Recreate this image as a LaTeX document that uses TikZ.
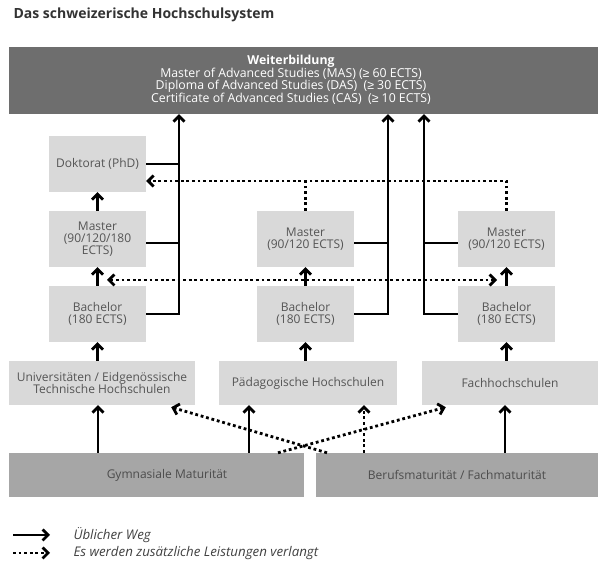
\documentclass[tikz,border=0pt]{standalone}
\usepackage{fontspec}
\setmainfont{Open Sans}
\newfontfamily\symfont{Liberation Sans}
\newcommand{\atleast}{{\symfont ≥}}
\usetikzlibrary{arrows.meta}
\definecolor{darkbox}{HTML}{6E6E6E}
\definecolor{lightbox}{HTML}{D9D9D9}
\definecolor{midbox}{HTML}{A6A6A6}
\definecolor{boxtext}{HTML}{555555}
\definecolor{titletext}{HTML}{333333}

\tikzset{
  stage/.style={shape=rectangle, fill=lightbox, inner sep=0pt, minimum width=97pt, minimum height=56pt,
    align=center, text=boxtext, font=\fontsize{12}{12}\selectfont},
  school/.style={stage, minimum height=44pt},
  entry/.style={stage, fill=midbox, text=black!70, minimum height=44pt},
  usual/.style={line width=2.8pt, -{Straight Barb[length=5.5pt,width=11pt]}},
  plainline/.style={line width=2.8pt},
  extraline/.style={line width=2.8pt, dash pattern=on 2.8pt off 2.8pt},
  extra/.style={extraline, -{Straight Barb[length=5.5pt,width=11pt]}},
  extraboth/.style={extraline, {Straight Barb[length=5.5pt,width=11pt]}-{Straight Barb[length=5.5pt,width=11pt]}},
}

\begin{document}
\begin{tikzpicture}[x=1pt, y=-1pt, line join=miter]
  \useasboundingbox (0,0) rectangle (598,561);
  \node (title) at (10,19) [anchor=base west, text=titletext, font=\bfseries\fontsize{14}{16}\selectfont] {Das schweizerische Hochschulsystem};

  % Weiterbildung
  \node (wb) at (303.5,80.5) [shape=rectangle, fill=darkbox, minimum width=589pt, minimum height=67pt, inner sep=0pt] {};
  \node (wbtext) at (291,80) [align=center, text=white, font=\fontsize{12.3}{11.6}\selectfont]
    {\textbf{Weiterbildung}\\Master of Advanced Studies (MAS) (\atleast\ 60 ECTS)\\Diploma of Advanced Studies (DAS)\ \ (\atleast\ 30 ECTS)\\Certificate of Advanced Studies (CAS)\ \ (\atleast\ 10 ECTS)};

  % Stufen
  \node (dok) at (97.5,164) [stage] {Doktorat (PhD)};
  \node (mL) at (97.5,239) [stage] {Master\\(90/120/180\\ECTS)};
  \node (bL) at (97.5,314) [stage] {Bachelor\\(180 ECTS)};
  \node (mM) at (305.5,239) [stage] {Master\\(90/120 ECTS)};
  \node (bM) at (305.5,314) [stage] {Bachelor\\(180 ECTS)};
  \node (mR) at (506.5,239) [stage] {Master\\(90/120 ECTS)};
  \node (bR) at (506.5,314) [stage] {Bachelor\\(180 ECTS)};

  % Hochschulen
  \node (uni) at (102,383) [school, minimum width=186pt] {Universitäten / Eidgenössische\\Technische Hochschulen};
  \node (phs) at (308,383) [school, minimum width=178pt] {Pädagogische Hochschulen};
  \node (fh) at (510,383) [school, minimum width=176pt] {Fachhochschulen};

  % Maturitaet
  \node (gym) at (156.5,475) [entry, minimum width=295pt] {};
  \node (gymtext) at (167,475) [text=black!70, font=\fontsize{12}{12}\selectfont] {Gymnasiale Maturität};
  \node (bms) at (457,475) [entry, minimum width=282pt] {Berufsmaturität / Fachmaturität};

  % Sammelleitungen zur Weiterbildung
  \coordinate (colL) at (179,0);
  \coordinate (colM) at (388,0);
  \coordinate (colR) at (424,0);
  \draw [usual] (bL.east) -| (colL |- wb.south);
  \draw [plainline] (dok.east) -- (dok.east -| colL);
  \draw [plainline] ([yshift=-4pt]mL.east) -- ([yshift=-4pt]mL.east -| colL);
  \draw [usual] (bM.east) -| (colM |- wb.south);
  \draw [plainline] ([yshift=-4pt]mM.east) -- ([yshift=-4pt]mM.east -| colM);
  \draw [usual] (bR.west) -| (colR |- wb.south);
  \draw [plainline] ([yshift=-4pt]mR.west) -- ([yshift=-4pt]mR.west -| colR);

  \draw [usual] (mL.north) -- (dok.south);
  \draw [usual] (bL.north) -- (mL.south);
  \draw [usual] (bM.north) -- (mM.south);
  \draw [usual] (bR.north) -- (mR.south);
  \draw [usual] (bL.south |- uni.north) -- (bL.south);
  \draw [usual] (bM.south |- phs.north) -- (bM.south);
  \draw [usual] (bR.south |- fh.north) -- (bR.south);

  \coordinate (gymU) at (98,0);
  \coordinate (gymP) at (249,0);
  \coordinate (bmsF) at (505,0);
  \draw [usual] (gym.north -| gymU) -- (uni.south -| gymU);
  \draw [usual] (gym.north -| gymP) -- (phs.south -| gymP);
  \draw [usual] (bms.north -| bmsF) -- (fh.south -| bmsF);

  % zusaetzliche Leistungen
  \coordinate (dokin) at ([yshift=-17pt]dok.east);
  \draw [extra] (mR.north) |- (dokin);
  \draw [extraline] (mM.north) -- (mM.north |- dokin);
  \coordinate (xl) at (107,280);
  \coordinate (xr) at (497,280);
  \draw [extraboth] (xl) -- (xr);
  \coordinate (bmsU) at (327,0);
  \coordinate (gymF) at (278,0);
  \coordinate (bmsP) at (364,0);
  \draw [extra] (bms.north -| bmsU) -- ([xshift=-24pt,yshift=-2pt]uni.south east);
  \draw [extra] (gym.north -| gymF) -- ([xshift=24pt,yshift=-2pt]fh.south west);
  \draw [extra] (bms.north -| bmsP) -- (phs.south -| bmsP);

  % Legende
  \node (l1) at (70,535) [anchor=west, text=black!75, font=\itshape\fontsize{13.3}{14}\selectfont] {Üblicher Weg};
  \node (l2) at (70,553) [anchor=west, text=black!75, font=\itshape\fontsize{13.3}{14}\selectfont] {Es werden zusätzliche Leistungen verlangt};
  \coordinate (l1a) at (13,535);
  \coordinate (l1b) at (50,535);
  \coordinate (l2a) at (13,553);
  \coordinate (l2b) at (50,553);
  \draw [usual] (l1a) -- (l1b);
  \draw [extra] (l2a) -- (l2b);
\end{tikzpicture}
\end{document}
